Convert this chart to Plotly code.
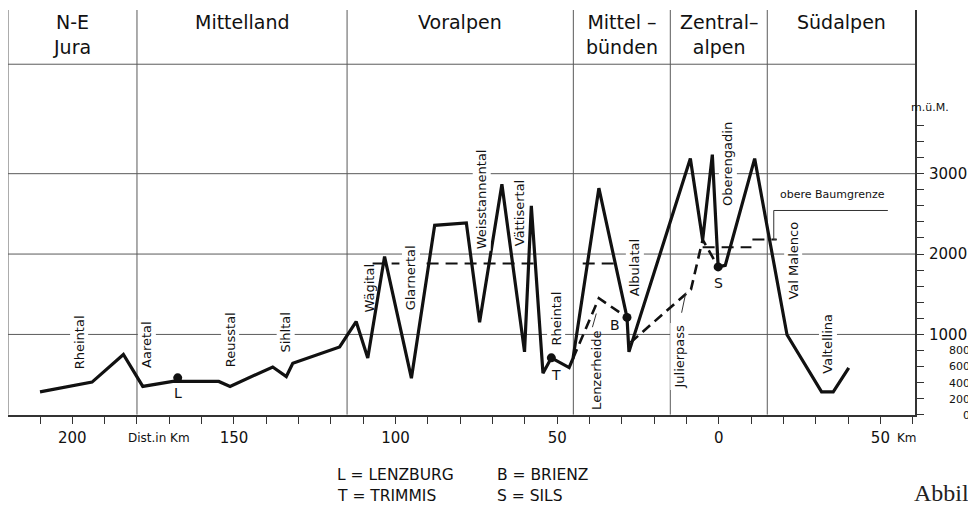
import plotly.graph_objects as go

# page body has an 8px margin -> figure fills the rest of the 976x514 window
OFF = 8
W, H = 976 - OFF, 514 - OFF
FONT = "DejaVu Sans"
INK = "#111111"
GRID = "#5a5a5a"

# ---------------- data ----------------
# signed distance from Sils (km): negative = north, positive = south ; elevation m ü.M.
profile_km = [-210.0, -193.9, -184.2, -178.2, -168.9, -154.7, -151.2, -138.0, -133.8, -131.8,
              -117.3, -112.2, -108.6, -103.4, -95.1, -87.9, -78.1, -74.0, -67.1, -60.1,
              -58.0, -54.4, -51.8, -46.3, -45.1, -37.1, -28.4, -27.8, -8.8, -5.0,
              -2.0, -0.2, 2.0, 11.1, 21.1, 31.8, 35.4, 40.2]
profile_m = [285, 407, 751, 353, 415, 415, 353, 595, 476, 640,
             844, 1160, 706, 1969, 456, 2358, 2387, 1151, 2869, 783,
             2600, 518, 709, 587, 702, 2820, 1212, 783, 3188, 2174,
             3237, 1840, 1860, 3188, 996, 285, 285, 583]

# dashed routes (Lenzerheide / Julierpass)
route_a_km = [-45.1, -37.1, -28.4]
route_a_m = [702, 1450, 1212]
route_b_km = [-27.3, -8.6, -5.0, -0.2]
route_b_m = [900, 1560, 2180, 1840]

# obere Baumgrenze (tree line) segments
treeline_from_km = [-107.1, -90.4, -42.1, -5.0, 10.4]
treeline_to_km = [-98.8, -55.4, -30.7, 10.1, 17.9]
treeline_m = [1883, 1883, 1883, 2086, 2181]

# places
place_codes = ["L", "T", "B", "S"]
place_km = [-167.4, -51.8, -28.4, -0.2]
place_m = [460, 709, 1212, 1840]
code_label_km = [-167.2, -50.5, -32.2, 0.0]
code_label_m = [272, 497, 1119, 1642]

# valley / pass names
valley_names = ["Rheintal", "Aaretal", "Reusstal", "Sihltal", "Wägital", "Glarnertal",
                "Weisstannental", "Vättisertal", "Rheintal", "Lenzerheide", "Albulatal",
                "Julierpass", "Oberengadin", "Val Malenco", "Valtellina"]
valley_km = [-197.8, -177.0, -151.1, -134.1, -108.0, -95.1, -73.5, -61.4, -50.2, -37.7,
             -26.0, -12.1, 2.9, 23.0, 33.8]
valley_m = [908, 877, 933, 1028, 1580, 1703, 2685, 2512, 1193, 558, 1834, 721, 3123, 1920, 886]
valley_gap = [True, True, True, True, False, True, True, False, True, False, True, True, True, True, True]

# leader lines (label -> line)
leader_x0 = [-39.1, -11.5]
leader_y0 = [1090, 1270]
leader_x1 = [-37.9, -10.2]
leader_y1 = [1260, 1520]
treeline_label = "obere Baumgrenze"
treeline_label_km = 35.2
treeline_label_m = 2631
treeline_leader_km = [17.9, 17.0, 17.0, 52.3]
treeline_leader_m = [2181, 2181, 2542, 2542]

# regions
region_bounds_km = [-219.9, -180, -115, -45, -15, 15, 60.7]
region_names = ["N-E<br>Jura", "Mittelland", "Voralpen", "Mittel –<br>bünden", "Zentral–<br>alpen", "Südalpen"]
header_line_m = 4362
top_m = 5037

# axes
x_tick_km = [-200, -150, -100, -50, 0, 50]
x_tick_text = ["200", "150", "100", "50", "0", "50"]
x_title = "Dist.in Km"
x_title_km = -173.2
y_major_vals = [1000, 2000, 3000]
y_minor_vals = [0, 200, 400, 600, 800]
y_tick_marks = [0, 200, 400, 600, 800, 1000, 1200, 1400, 1600, 1800, 2000,
                2200, 2400, 2600, 2800, 3000, 3200, 3400, 3600]
grid_m = [1000, 2000, 3000]

legend_keys = ["L = LENZBURG", "T = TRIMMIS", "B = BRIENZ", "S = SILS"]


# ---------------- figure ----------------
def px(sx):  # window x pixel -> paper x
    return (sx - OFF) / W


def py(sy):  # window y pixel -> paper y
    return (H - (sy - OFF)) / H


XDOM = [px(8), px(915)]
YDOM = [py(420.5), py(10)]
XR = [region_bounds_km[0], region_bounds_km[-1]]
YR = [0, top_m]

fig = go.Figure()

# tree line
tx, ty = [], []
for a, b, m in zip(treeline_from_km, treeline_to_km, treeline_m):
    tx += [a, b, None]
    ty += [m, m, None]
fig.add_trace(go.Scatter(x=tx, y=ty, mode="lines",
                         line=dict(color=INK, width=2, dash="12px,7px"),
                         hoverinfo="skip", showlegend=False))
# dashed routes
for rx, ry in [(route_a_km, route_a_m), (route_b_km, route_b_m)]:
    fig.add_trace(go.Scatter(x=rx, y=ry, mode="lines",
                             line=dict(color=INK, width=2.6, dash="10px,6px"),
                             hoverinfo="skip", showlegend=False))
# profile
fig.add_trace(go.Scatter(x=profile_km, y=profile_m, mode="lines",
                         line=dict(color=INK, width=3.2),
                         hoverinfo="skip", showlegend=False))
# places
fig.add_trace(go.Scatter(x=place_km, y=place_m, mode="markers",
                         marker=dict(color=INK, size=9),
                         hoverinfo="skip", showlegend=False))
# leaders
lx, ly = [], []
for a, b, c, d in zip(leader_x0, leader_y0, leader_x1, leader_y1):
    lx += [a, c, None]
    ly += [b, d, None]
lx += treeline_leader_km
ly += treeline_leader_m
fig.add_trace(go.Scatter(x=lx, y=ly, mode="lines", line=dict(color="#333", width=1),
                         hoverinfo="skip", showlegend=False))
# dummy traces to activate extra axes
fig.add_trace(go.Scatter(x=[None], y=[None], xaxis="x2", yaxis="y", showlegend=False, hoverinfo="skip"))
fig.add_trace(go.Scatter(x=[None], y=[None], xaxis="x", yaxis="y2", showlegend=False, hoverinfo="skip"))
fig.add_trace(go.Scatter(x=[None], y=[None], xaxis="x", yaxis="y3", showlegend=False, hoverinfo="skip"))

shapes = []
for m in grid_m + [header_line_m]:
    shapes.append(dict(type="line", xref="x", yref="y", x0=XR[0], x1=XR[1], y0=m, y1=m,
                       line=dict(color=GRID, width=1), layer="below"))
for b in region_bounds_km[:-1]:
    shapes.append(dict(type="line", xref="x", yref="y", x0=b, x1=b, y0=0, y1=top_m,
                       line=dict(color=GRID, width=1), layer="below"))

ann = []
# header
for i, name in enumerate(region_names):
    cx = (region_bounds_km[i] + region_bounds_km[i + 1]) / 2
    two = "<br>" in name
    ann.append(dict(x=cx, xref="x", y=py(35 if two else 22.5), yref="paper",
                    text=name, showarrow=False, xanchor="center", yanchor="middle",
                    font=dict(family=FONT, size=19, color=INK)))
# valley names
for name, x, y, g in zip(valley_names, valley_km, valley_m, valley_gap):
    a = dict(x=x, y=y, xref="x", yref="y", text=name, textangle=-90, showarrow=False,
             font=dict(family=FONT, size=13, color=INK))
    if g:
        a.update(bgcolor="white", borderpad=1)
    ann.append(a)
# place codes
for c, x, y in zip(place_codes, code_label_km, code_label_m):
    ann.append(dict(x=x, y=y, xref="x", yref="y", text=c, showarrow=False,
                    font=dict(family=FONT, size=14, color=INK)))
ann.append(dict(x=treeline_label_km, y=treeline_label_m, xref="x", yref="y",
                text=treeline_label, showarrow=False, yanchor="bottom",
                font=dict(family=FONT, size=11, color=INK)))
# axis extras
ann.append(dict(x=x_title_km, xref="x", y=py(444), yref="paper", text=x_title, showarrow=False,
                yanchor="middle", font=dict(family=FONT, size=12, color=INK)))
ann.append(dict(x=px(895), xref="paper", y=py(444), yref="paper", text="Km", showarrow=False,
                xanchor="left", yanchor="middle", font=dict(family=FONT, size=12, color=INK)))
ann.append(dict(x=px(951), xref="paper", y=py(100.7), yref="paper", text="m.ü.M.", showarrow=False,
                font=dict(family=FONT, size=11, color=INK)))
# legend
for txt, sx, sy in zip(legend_keys, [335, 335, 495, 495], [481.7, 503.3, 481.7, 503.3]):
    ann.append(dict(x=px(sx), xref="paper", y=py(sy), yref="paper", text=txt, showarrow=False,
                    xanchor="left", yanchor="middle", font=dict(family=FONT, size=15.5, color=INK)))
ann.append(dict(x=px(912), xref="paper", y=py(500), yref="paper", text="Abbil", showarrow=False,
                xanchor="left", yanchor="middle", font=dict(family="Liberation Serif", size=24, color="#222")))

FIG_SP = "\u2007"
axis_common = dict(showgrid=False, zeroline=False, fixedrange=True)
fig.update_layout(
    width=W, height=H, autosize=False,
    margin=dict(l=0, r=0, t=0, b=0),
    paper_bgcolor="white", plot_bgcolor="white",
    showlegend=False,
    xaxis=dict(domain=XDOM, range=XR, anchor="y", side="bottom",
               showline=True, linecolor="#333", linewidth=1.5,
               ticks="outside", ticklen=7, tickwidth=1.2, tickcolor="#333",
               tickmode="linear", tick0=0, dtick=10, showticklabels=False, **axis_common),
    xaxis2=dict(domain=XDOM, range=XR, overlaying="x", anchor="y", side="bottom",
                showline=False, ticks="", tickmode="array", tickvals=x_tick_km, ticktext=x_tick_text,
                tickfont=dict(family=FONT, size=15, color=INK), ticklabelstandoff=12, **axis_common),
    yaxis=dict(domain=YDOM, range=YR, anchor="x", side="right",
               showline=True, linecolor="#333", linewidth=1.5,
               ticks="outside", ticklen=7, tickwidth=1.2, tickcolor="#333",
               tickmode="array", tickvals=y_tick_marks, showticklabels=False, **axis_common),
    yaxis2=dict(range=YR, overlaying="y", anchor="x", side="right",
                showline=False, ticks="", tickmode="array", tickvals=y_major_vals,
                ticktext=[str(v) for v in y_major_vals],
                tickfont=dict(family=FONT, size=15, color=INK), ticklabelstandoff=13, **axis_common),
    yaxis3=dict(range=YR, overlaying="y", anchor="x", side="right",
                showline=False, ticks="", tickmode="array", tickvals=y_minor_vals,
                ticktext=[FIG_SP * (4 - len(str(v))) + str(v) for v in y_minor_vals],
                tickfont=dict(family=FONT, size=11, color=INK), ticklabelstandoff=26, **axis_common),
    shapes=shapes,
    annotations=ann,
)

fig.write_html("out.html")
